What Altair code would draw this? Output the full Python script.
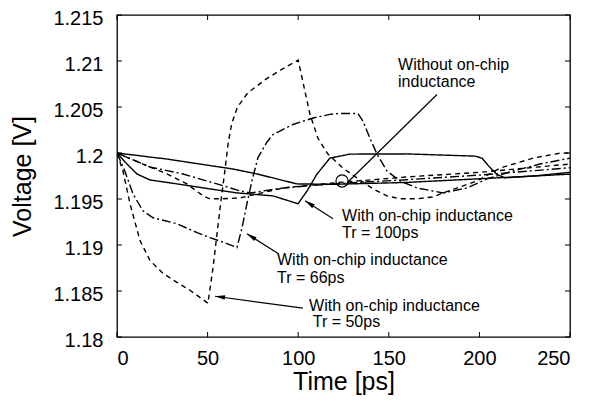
import math
import altair as alt
import pandas as pd

FONT = "Liberation Sans"

# ---------------- data ----------------
x_ticks = [0, 50, 100, 150, 200, 250]
y_ticks = [1.18, 1.185, 1.19, 1.195, 1.2, 1.205, 1.21, 1.215]

# with on-chip inductance, Tr = 50ps (dashed)
t_w50 = [0, 3.3, 7.2, 12.7, 18.2, 25.4, 33.1, 40.3, 50.2, 53.0, 55.2, 57.5, 59.5, 61.3,
         63.3, 66.5, 72.0, 82.0, 91.0, 100.0, 106.5, 110.9, 116.4, 124.7, 132.5, 141.3,
         149.0, 156.2, 165.6, 174.4, 179.9, 198.7, 211.4, 229.6, 244.5, 250]
v_w50 = [1.2, 1.19804, 1.19447, 1.19048, 1.18832, 1.18691, 1.18594, 1.18508, 1.18367,
         1.18756, 1.19123, 1.1950, 1.1980, 1.2010, 1.2032, 1.2050, 1.2065, 1.2080, 1.2091,
         1.2101, 1.2042, 1.2016, 1.19988, 1.19836, 1.19728, 1.1961, 1.19534, 1.19502,
         1.19502, 1.19523, 1.19566, 1.19696, 1.19836, 1.19944, 1.19998, 1.2]

# with on-chip inductance, Tr = 66ps (dash-dot)
t_w66 = [0, 4.4, 8.8, 14.3, 19.9, 33.1, 44.2, 51.3, 60.7, 66.2, 69.0, 71.7, 74.5, 77.8,
         82.8, 86.1, 97.1, 108.2, 117.5, 123.1, 133.0, 135.8, 139.6, 143.5, 149.0, 156.2,
         165.6, 179.9, 193.2, 204.2, 218.5, 233.4, 250]
v_w66 = [1.2, 1.198, 1.19556, 1.19372, 1.19296, 1.19231, 1.19134, 1.1908, 1.19015,
         1.18972, 1.19188, 1.19448, 1.1970, 1.1995, 1.2012, 1.2020, 1.2031, 1.2038, 1.2042,
         1.2043, 1.2043, 1.20344, 1.2016, 1.19988, 1.19804, 1.19696, 1.1962, 1.19566,
         1.1962, 1.19718, 1.19804, 1.1988, 1.19944]

# with on-chip inductance, Tr = 100ps (solid)
t_w100 = [0, 5.5, 11.0, 18.2, 33.1, 51.3, 66.2, 86.1, 99.9, 104.9, 110.4, 117.5, 128.6,
          160, 197.6, 201.4, 205.5, 209.5, 214.0, 230.0, 250]
v_w100 = [1.2, 1.1988, 1.19772, 1.19707, 1.19664, 1.1961, 1.19566, 1.19534, 1.19448,
          1.19588, 1.19772, 1.19944, 1.19988, 1.1999, 1.19966, 1.19944, 1.1985, 1.1977,
          1.1973, 1.1975, 1.1979]

# without on-chip inductance, Tr = 100ps (solid)
t_o100 = [0, 27.6, 45.8, 64.0, 77.3, 88.3, 99.3, 120, 160, 200, 250]
v_o100 = [1.2, 1.19934, 1.1988, 1.19826, 1.19772, 1.19718, 1.19664, 1.1966, 1.1968,
          1.1972, 1.1977]

# without on-chip inductance, Tr = 66ps (dash-dot)
t_o66 = [0, 18.2, 36.4, 55.2, 67.9, 73.4, 91.6, 119.2, 160, 200, 250]
v_o66 = [1.2, 1.19848, 1.19772, 1.19664, 1.19588, 1.19566, 1.1962, 1.19664, 1.1971,
         1.1976, 1.1984]

# without on-chip inductance, Tr = 50ps (dashed)
t_o50 = [0, 14.3, 27.6, 38.6, 47.5, 51.3, 58.5, 67.9, 91.6, 119.2, 160, 200, 250]
v_o50 = [1.2, 1.1988, 1.19772, 1.19664, 1.19534, 1.19502, 1.19502, 1.19512, 1.1962,
         1.19674, 1.1974, 1.1979, 1.1988]

series = [
    ("with50", "dashed", t_w50, v_w50),
    ("with66", "dashdot", t_w66, v_w66),
    ("with100", "solid", t_w100, v_w100),
    ("wo100", "solid", t_o100, v_o100),
    ("wo66", "dashdot", t_o66, v_o66),
    ("wo50", "dashed", t_o50, v_o50),
]

# annotations: text lines (left x, baseline y in data units)
ann_text = ["Without on-chip", "inductance",
            "With on-chip inductance", "Tr = 100ps",
            "With on-chip inductance", "Tr = 66ps",
            "With on-chip inductance", "Tr = 50ps"]
ann_t = [155.1, 155.1, 124.2, 124.2, 88.3, 88.3, 106.0, 108.0]
ann_v = [1.20906, 1.20722, 1.19264, 1.1908, 1.18778, 1.18583, 1.18281, 1.18108]

# leader lines: tail -> head
arr_t1 = [119.2, 88.9, 102.6, 176.6]
arr_v1 = [1.19285, 1.18907, 1.18313, 1.20636]
arr_t2 = [103.8, 71.7, 54.1, 126.9]
arr_v2 = [1.19480, 1.19123, 1.18443, 1.19674]
arr_head = [True, True, True, False]

circ_t = [124.2]
circ_v = [1.19696]

# ---------------- layout ----------------
W, H = 453, 322
X_DOM = [0, 250]
Y_DOM = [1.18, 1.215]
sx = W / (X_DOM[1] - X_DOM[0])
sy = H / (Y_DOM[1] - Y_DOM[0])

rows = []
for name, style, ts, vs in series:
    for i, (t, v) in enumerate(zip(ts, vs)):
        rows.append({"series": name, "style": style, "t": t, "v": v, "i": i})
df = pd.DataFrame(rows)

xs = alt.Scale(domain=X_DOM, nice=False, zero=False)
ys = alt.Scale(domain=Y_DOM, nice=False, zero=False)

lines = alt.Chart(df).mark_line(strokeWidth=1.4, color="black", clip=True).encode(
    x=alt.X("t:Q", scale=xs, title="Time [ps]",
            axis=alt.Axis(values=x_ticks, format="d", labelPadding=11, titlePadding=1)),
    y=alt.Y("v:Q", scale=ys, title="Voltage [V]",
            axis=alt.Axis(values=y_ticks, format="~g", labelPadding=14, titlePadding=17,
                          labelOffset=3)),
    detail="series:N",
    order="i:Q",
    strokeDash=alt.StrokeDash("style:N", legend=None,
                              scale=alt.Scale(domain=["solid", "dashed", "dashdot"],
                                              range=[[1, 0], [5, 4], [9, 3, 2, 3]])),
)

# inner tick marks on all four sides
xt = pd.DataFrame({"t": x_ticks})
yt = pd.DataFrame({"v": y_ticks})
tick_b = alt.Chart(xt).mark_rule(color="black", strokeWidth=1).encode(
    x=alt.X("t:Q", scale=xs), y=alt.value(H), y2=alt.value(H - 5))
tick_t = alt.Chart(xt).mark_rule(color="black", strokeWidth=1).encode(
    x=alt.X("t:Q", scale=xs), y=alt.value(0), y2=alt.value(5))
tick_l = alt.Chart(yt).mark_rule(color="black", strokeWidth=1).encode(
    y=alt.Y("v:Q", scale=ys), x=alt.value(0), x2=alt.value(5))
tick_r = alt.Chart(yt).mark_rule(color="black", strokeWidth=1).encode(
    y=alt.Y("v:Q", scale=ys), x=alt.value(W), x2=alt.value(W - 5))

# annotation text
tdf = pd.DataFrame({"text": ann_text, "t": ann_t, "v": ann_v})
texts = alt.Chart(tdf).mark_text(align="left", baseline="alphabetic", font=FONT,
                                 fontSize=16, color="black").encode(
    x=alt.X("t:Q", scale=xs), y=alt.Y("v:Q", scale=ys), text="text:N")

# leader lines
adf = pd.DataFrame({"t1": arr_t1, "v1": arr_v1, "t2": arr_t2, "v2": arr_v2})
leaders = alt.Chart(adf).mark_rule(color="black", strokeWidth=1.2).encode(
    x=alt.X("t1:Q", scale=xs), y=alt.Y("v1:Q", scale=ys),
    x2="t2:Q", y2="v2:Q")

# arrow heads
angles = []
for t1, v1, t2, v2 in zip(arr_t1, arr_v1, arr_t2, arr_v2):
    dx = (t2 - t1) * sx
    dy = -(v2 - v1) * sy
    a = math.degrees(math.atan2(dx, -dy)) % 360
    angles.append(a)
hdf = pd.DataFrame({"t": [t for t, h in zip(arr_t2, arr_head) if h],
                    "v": [v for v, h in zip(arr_v2, arr_head) if h],
                    "a": [a for a, h in zip(angles, arr_head) if h]})
heads = alt.Chart(hdf).mark_point(shape="M0,0L-0.45,2L0.45,2Z", size=100, filled=True,
                                  color="black", opacity=1).encode(
    x=alt.X("t:Q", scale=xs), y=alt.Y("v:Q", scale=ys),
    angle=alt.Angle("a:Q", scale=None))

cdf = pd.DataFrame({"t": circ_t, "v": circ_v})
circle = alt.Chart(cdf).mark_point(shape="circle", size=150, filled=False,
                                   color="black", strokeWidth=1.2, opacity=1).encode(
    x=alt.X("t:Q", scale=xs), y=alt.Y("v:Q", scale=ys))

chart = alt.layer(lines, tick_b, tick_t, tick_l, tick_r, leaders, heads, circle, texts).properties(
    width=W, height=H,
    padding={"left": 109, "top": 7, "right": 12, "bottom": 58},
    autosize=alt.AutoSizeParams(type="none"),
    background="white",
).configure_view(
    stroke="black", strokeWidth=1.3
).configure_axis(
    grid=False, ticks=False, tickSize=0, domain=False,
    labelFont=FONT, labelFontSize=20, labelColor="black",
    titleFont=FONT, titleFontSize=25, titleFontWeight="normal", titleColor="black",
)

chart.save("out.html", embed_options={"renderer": "svg", "actions": False})
